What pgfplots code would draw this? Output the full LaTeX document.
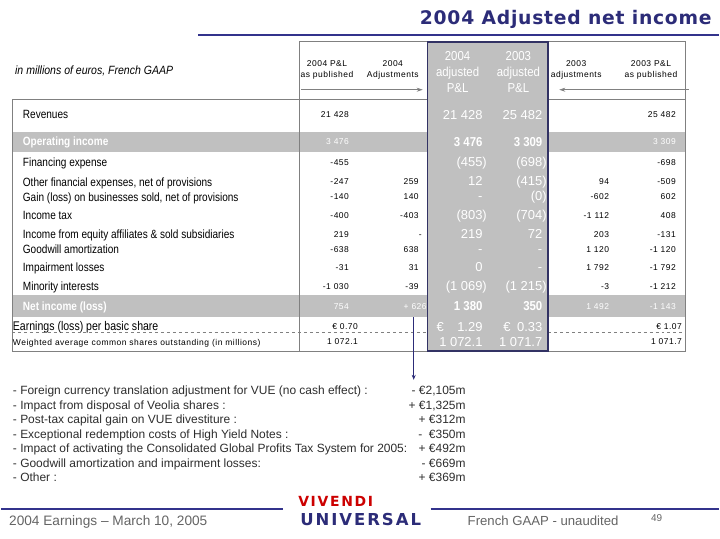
\documentclass[border=0pt]{standalone}
\usepackage{pgfplots}
\pgfplotsset{compat=1.18}
\usepackage{pgfplotstable}
\usepackage{fontspec}
\usetikzlibrary{arrows.meta}
\setmainfont{Liberation Sans}
\newfontfamily\narrow[FakeStretch=0.88]{Liberation Sans}
\newfontfamily\narrowlab[FakeStretch=0.84]{Liberation Sans}
\newfontfamily\spaced[LetterSpace=6]{Liberation Sans}
\newfontfamily\titlefont[LetterSpace=4]{DejaVu Sans}
\newfontfamily\logofont[LetterSpace=12]{DejaVu Sans}

\definecolor{navy}{RGB}{44,44,120}
\definecolor{rule}{RGB}{51,51,140}
\definecolor{hiedge}{RGB}{50,50,100}
\definecolor{band}{RGB}{192,192,192}
\definecolor{grid}{RGB}{128,128,128}
\definecolor{foot}{RGB}{100,100,100}
\definecolor{body}{RGB}{45,45,45}
\definecolor{logored}{RGB}{204,0,0}

% cell helpers
\DeclareRobustCommand\W[1]{\textcolor{white}{#1}}
\DeclareRobustCommand\Wb[1]{\textcolor{white}{\bfseries #1}}
\DeclareRobustCommand\HB[1]{{\narrow\bfseries #1}}
\DeclareRobustCommand\Par[1]{(#1\rlap{)}}
\DeclareRobustCommand\Sh[2]{#2\hspace*{-#1bp}}
\DeclareRobustCommand\Eu[2]{\makebox[#1bp]{€\hfill #2}}
\DeclareRobustCommand\LE[1]{\hspace*{-10bp}{\narrowlab\fontsize{12.6bp}{14bp}\selectfont #1}}
\DeclareRobustCommand\LW[1]{\hspace*{-10bp}{\spaced\fontsize{8.5bp}{10bp}\selectfont #1}}

\pgfplotstableread[col sep=semicolon]{
y;lab
115;Revenues
142;\Wb{Operating income}
163;Financing expense
183;Other financial expenses, net of provisions
198;Gain (loss) on businesses sold, net of provisions
216;Income tax
235;Income from equity affiliates \& sold subsidiaries
250;Goodwill amortization
268;Impairment losses
287;Minority interests
307;\Wb{Net income (loss)}
328;\LE{Earnings (loss) per basic share}
343;\LW{Weighted average common shares outstanding (in millions)}
}\labtab

\pgfplotstableread[col sep=semicolon]{
y;c1;c2;c3;c4;c5;c6
115;21 428;;21 428;25 482;;25 482
142;\W{3 476};;\HB{3 476};\HB{3 309};;\W{3 309}
163;-455;;\Par{455};\Par{698};;-698
182;-247;259;12;\Par{415};94;-509
197;-140;140;-;\Par{0};-602;602
216;-400;-403;\Par{803};\Par{704};-1 112;408
235;219;\Sh{4}{-};219;72;203;-131
250;-638;638;-;-;1 120;-1 120
268;-31;31;0;-;1 792;-1 792
287;-1 030;-39;\Par{1 069};\Par{1 215};-3;-1 212
307;\W{754};\Sh{8}{\W{+ 626}};\HB{1 380};\HB{350};\W{1 492};\W{-1 143}
328;\Sh{9}{€ 0.70};;\Eu{46}{1.29};\Eu{39}{0.33};;\Sh{6}{€ 1.07}
343;\Sh{9}{1 072.1};;1 072.1;1 071.7;;\Sh{6}{1 071.7}
}\numtab

\pgfplotstableread[col sep=semicolon]{
y;t;v
392;- Foreign currency translation adjustment for VUE (no cash effect) :;- €2,105m
406.5;- Impact from disposal of Veolia shares :;+ €1,325m
421;- Post-tax capital gain on VUE divestiture :;+ €312m
435.5;- Exceptional redemption costs of High Yield Notes :;-\ \ €350m
450;- Impact of activating the Consolidated Global Profits Tax System for 2005:;+ €492m
464.5;- Goodwill amortization and impairment losses:;- €669m
479;- Other :;+ €369m
}\bultab

\pgfplotsset{
  cell/.style={draw=none, mark=none, forget plot, nodes near coords,
    point meta=explicit symbolic,
    every node near coord/.append style={inner sep=0pt, outer sep=0pt, #1}},
}
\newcommand\sm{\spaced\fontsize{8.5bp}{10bp}\selectfont}
\newcommand\hi{\fontsize{13bp}{15bp}\selectfont\color{white}}

\begin{document}
\begin{tikzpicture}
\begin{axis}[
  scale only axis, width=720bp, height=540bp,
  xmin=0, xmax=720, ymin=0, ymax=540, y dir=reverse,
  hide axis, clip=false,
]
\path (axis cs:0,0) rectangle (axis cs:720,540);

% title and rules
\node[anchor=base east, inner sep=0pt, text=navy,
      font=\titlefont\bfseries\fontsize{18.8bp}{20bp}\selectfont]
  at (axis cs:713,25) {2004 Adjusted net income};
\draw[rule, line width=2.5bp] (axis cs:198,35) -- (axis cs:720,35);

% gray bands
\fill[band] (axis cs:11,132) rectangle (axis cs:687,152);
\fill[band] (axis cs:11,296) rectangle (axis cs:687,318);

% table frame
\draw[grid, line width=0.8bp] (axis cs:11,100) rectangle (axis cs:687,352);
\draw[grid, line width=0.8bp] (axis cs:299,42) -- (axis cs:299,352);
\draw[grid, line width=0.8bp] (axis cs:299,42) -- (axis cs:687,42) -- (axis cs:687,100);
\draw[grid, dashed, line width=0.6bp] (axis cs:11,333) -- (axis cs:687,333);

% highlighted columns
\fill[band] (axis cs:428,42) rectangle (axis cs:549,352);
\draw[hiedge, line width=1.6bp] (axis cs:428,42) rectangle (axis cs:549,352);

% header arrows
\draw[grid, line width=0.8bp, -{Stealth[length=6bp,width=4bp]}] (axis cs:301,90) -- (axis cs:423,90);
\draw[grid, line width=0.8bp, -{Stealth[length=6bp,width=4bp]}] (axis cs:690,90) -- (axis cs:560,90);

% headers
\node[font=\sm, align=center, inner sep=0pt] at (axis cs:327,70) {2004 P\&L\\[1bp]as published};
\node[font=\sm, align=center, inner sep=0pt] at (axis cs:393,70) {2004\\[1bp]Adjustments};
\node[font=\sm, align=center, inner sep=0pt] at (axis cs:577,70) {2003\\[1bp]adjustments};
\node[font=\sm, align=center, inner sep=0pt] at (axis cs:652,70) {2003 P\&L\\[1bp]as published};
\node[font=\narrow\fontsize{13bp}{16bp}\selectfont, text=white, align=center, inner sep=0pt]
  at (axis cs:458,72) {2004\\adjusted\\P\&L};
\node[font=\narrow\fontsize{13bp}{16bp}\selectfont, text=white, align=center, inner sep=0pt]
  at (axis cs:519,72) {2003\\adjusted\\P\&L};
\node[anchor=base west, inner sep=0pt,
      font=\narrow\itshape\fontsize{12bp}{14bp}\selectfont]
  at (axis cs:14,75) {in millions of euros, French GAAP};

% row labels
\addplot[cell={anchor=base west, font=\narrowlab\fontsize{12bp}{13bp}\selectfont}]
  table[x expr=22, y expr=\thisrow{y}+4, meta=lab] {\labtab};

% values
\addplot[cell={anchor=base east, font=\sm}] table[x expr=349, y expr=\thisrow{y}+3, meta=c1] {\numtab};
\addplot[cell={anchor=base east, font=\sm}] table[x expr=419, y expr=\thisrow{y}+3, meta=c2] {\numtab};
\addplot[cell={anchor=base east, font=\hi}] table[x expr=483, y expr=\thisrow{y}+4.5, meta=c3] {\numtab};
\addplot[cell={anchor=base east, font=\hi}] table[x expr=543, y expr=\thisrow{y}+4.5, meta=c4] {\numtab};
\addplot[cell={anchor=base east, font=\sm}] table[x expr=610, y expr=\thisrow{y}+3, meta=c5] {\numtab};
\addplot[cell={anchor=base east, font=\sm}] table[x expr=677, y expr=\thisrow{y}+3, meta=c6] {\numtab};

% adjustment arrow
\draw[navy, line width=0.8bp, -{Stealth[length=5bp,width=4bp]}] (axis cs:414,318) -- (axis cs:414,381);

% bullet list
\addplot[cell={anchor=base west, text=body, font=\fontsize{12bp}{14bp}\selectfont}]
  table[x expr=12, y expr=\thisrow{y}+4, meta=t] {\bultab};
\addplot[cell={anchor=base east, text=body, font=\fontsize{12bp}{14bp}\selectfont}]
  table[x expr=466, y expr=\thisrow{y}+4, meta=v] {\bultab};

% footer
\draw[rule, line width=2bp] (axis cs:0,511) -- (axis cs:283,511);
\draw[rule, line width=2bp] (axis cs:431,511) -- (axis cs:720,511);
\node[anchor=base west, inner sep=0pt, text=foot, font=\fontsize{13.7bp}{15bp}\selectfont]
  at (axis cs:8,527) {2004 Earnings – March 10, 2005};
\node[anchor=base west, inner sep=0pt, text=foot, font=\fontsize{13.2bp}{15bp}\selectfont]
  at (axis cs:468,527) {French GAAP - unaudited};
\node[anchor=base west, inner sep=0pt, text=foot, font=\fontsize{10bp}{12bp}\selectfont]
  at (axis cs:652,523) {49};
\node[anchor=base west, inner sep=0pt, text=logored, font=\logofont\bfseries\fontsize{14bp}{15bp}\selectfont]
  at (axis cs:298,508) {VIVENDI};
\node[anchor=base west, inner sep=0pt, text=navy, font=\logofont\bfseries\fontsize{16.5bp}{17bp}\selectfont]
  at (axis cs:300,527) {UNIVERSAL};
\end{axis}
\end{tikzpicture}
\end{document}
